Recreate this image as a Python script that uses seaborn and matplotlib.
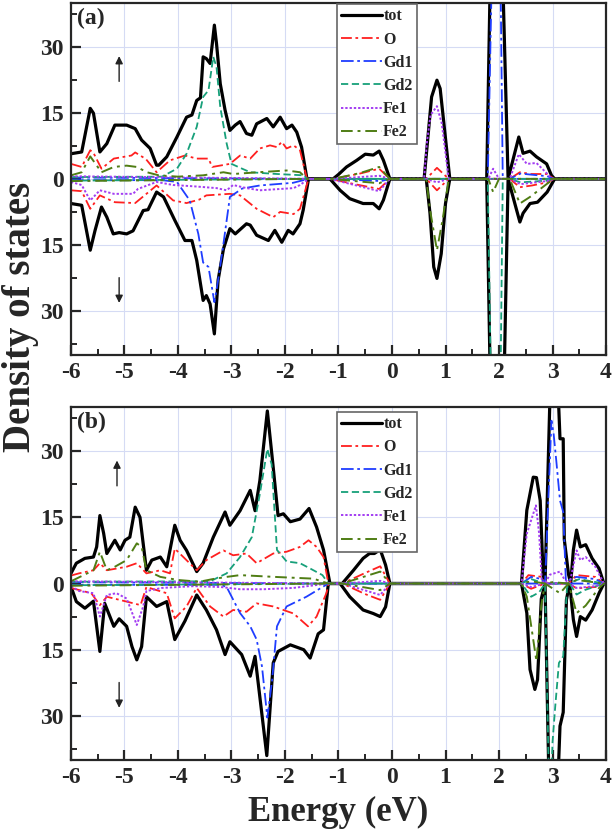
import numpy as np
import pandas as pd
import matplotlib
matplotlib.use("Agg")
import matplotlib.pyplot as plt
import seaborn as sns
from matplotlib.lines import Line2D
from matplotlib.ticker import MultipleLocator, FuncFormatter

# ---- panel (a) data : energy (eV) knots and DOS values, spin up (+) / spin down (-) ----
a_tot_up_e = [-6.0, -5.8, -5.64, -5.58, -5.46, -5.33, -5.18, -4.96, -4.8, -4.68, -4.52, -4.4, -4.36, -4.21,
              -4.02, -3.84, -3.74, -3.65, -3.58, -3.53, -3.47, -3.4, -3.32, -3.28, -3.21, -3.12, -3.03, -2.93,
              -2.84, -2.72, -2.62, -2.53, -2.34, -2.22, -2.09, -1.97, -1.87, -1.78, -1.69, -1.59, -1.1, -1.0,
              -0.85, -0.66, -0.5, -0.35, -0.24, -0.16, -0.04, 0.6, 0.74, 0.84, 0.9, 0.99, 1.08, 1.77, 1.85,
              2.06, 2.17, 2.37, 2.45, 2.58, 2.7, 2.89, 2.98, 3.04, 4.0]
a_tot_up = [5.7, 6.1, 16.0, 14.9, 6.1, 8.0, 12.2, 12.2, 11.4, 8.8, 6.9, 3.1, 3.1, 5.0,
            9.5, 14.0, 14.5, 17.8, 18.4, 27.7, 27.3, 26.2, 34.9, 30.7, 21.6, 15.6, 11.0, 12.2,
            13.0, 10.3, 9.9, 12.5, 13.7, 11.8, 14.0, 11.4, 12.2, 10.6, 7.2, 0.0, 0.0, 1.0,
            2.7, 4.2, 5.6, 5.4, 6.3, 4.2, 0.0, 0.0, 18.6, 22.4, 20.5, 10.3, 0.0, 0.0, 55.0,
            50.0, 0.0, 9.5, 5.8, 6.3, 5.0, 3.4, 0.8, 0.0, 0.0]
a_tot_dn_e = [-6.0, -5.8, -5.64, -5.55, -5.43, -5.33, -5.21, -5.1, -4.96, -4.84, -4.65, -4.56, -4.4, -4.27,
              -4.06, -3.87, -3.74, -3.65, -3.53, -3.47, -3.4, -3.32, -3.25, -3.15, -3.03, -2.93, -2.72, -2.65,
              -2.53, -2.31, -2.19, -2.06, -1.94, -1.85, -1.72, -1.66, -1.56, -1.16, -0.97, -0.79, -0.54, -0.35,
              -0.24, -0.16, -0.04, 0.64, 0.71, 0.78, 0.84, 0.92, 1.0, 1.08, 1.77, 1.85, 2.08, 2.17, 2.39,
              2.45, 2.58, 2.72, 2.9, 3.04, 4.0]
a_tot_dn = [-5.6, -6.0, -16.2, -11.7, -6.4, -8.7, -12.5, -12.2, -12.5, -11.8, -7.2, -7.0, -3.0, -4.1,
            -9.4, -14.0, -14.0, -18.5, -27.6, -26.5, -28.4, -35.2, -23.0, -15.9, -11.3, -12.5, -10.2, -10.5,
            -12.8, -14.0, -11.7, -14.4, -11.7, -12.5, -10.2, -7.1, 0.0, 0.0, -2.6, -4.5, -5.6, -5.6,
            -6.8, -4.8, 0.0, 0.0, -7.8, -20.0, -22.6, -17.0, -5.6, 0.0, 0.0, -55.0, -55.0, 0.0, -9.8,
            -7.8, -5.6, -5.3, -3.0, 0.0, 0.0]

a_o_up_e = [-6.0, -5.8, -5.64, -5.58, -5.43, -5.2, -4.87, -4.8, -4.6, -4.4, -4.15, -3.87, -3.65, -3.43,
            -3.36, -3.03, -2.84, -2.65, -2.47, -2.28, -2.15, -2.06, -1.97, -1.84, -1.72, -1.59, -1.1, -0.6,
            -0.24, -0.04, 0.64, 0.84, 1.06, 2.2, 2.39, 2.6, 2.9, 3.03, 4.0]
a_o_up = [3.4, 2.7, 6.5, 5.9, 2.3, 4.6, 5.3, 6.0, 4.5, 1.5, 4.2, 5.3, 4.6, 4.6,
          2.7, 3.4, 5.3, 4.6, 6.9, 7.6, 7.2, 8.4, 6.9, 7.6, 6.5, 0.0, 0.0, 1.2,
          2.3, 0.0, 0.0, 2.5, 0.0, 0.0, 1.5, 1.1, 1.1, 0.0, 0.0]
a_o_dn_e = [-6.0, -5.8, -5.64, -5.46, -5.18, -4.8, -4.4, -4.09, -3.84, -3.6, -3.47, -3.03, -2.84, -2.53,
            -2.22, -2.09, -1.84, -1.72, -1.56, -1.16, -0.7, -0.24, -0.04, 0.64, 0.84, 1.06, 2.2, 2.39,
            2.62, 2.9, 3.03, 4.0]
a_o_dn = [-2.6, -2.8, -6.8, -3.75, -5.3, -5.5, -1.5, -4.9, -5.5, -4.7, -3.75, -3.4, -3.75, -6.8,
          -8.7, -7.5, -8.0, -6.8, 0.0, 0.0, -1.2, -2.3, 0.0, 0.0, -2.6, 0.0, 0.0, -1.9,
          -1.5, -0.8, 0.0, 0.0]

a_gd1_up_e = [-6.0, -1.59, -1.1, 1.79, 1.88, 2.02, 2.07, 2.2, 2.4, 2.9, 3.03, 4.0]
a_gd1_up = [0.3, 0.0, 0.0, 0.0, 55.0, 55.0, 0.0, 0.0, 1.2, 0.6, 0.0, 0.0]
a_gd1_dn_e = [-6.0, -4.3, -4.02, -3.78, -3.62, -3.53, -3.43, -3.32, -3.25, -3.15, -3.03, -2.8, -2.47, -1.85,
              -1.56, -1.16, -0.2, -0.04, 4.0]
a_gd1_dn = [-0.3, -0.3, -0.7, -4.9, -12.5, -19.0, -20.0, -28.0, -23.0, -14.7, -4.1, -2.2, -1.5, -0.9,
            0.0, 0.0, -0.5, 0.0, 0.0]

a_gd2_up_e = [-6.0, -4.3, -4.02, -3.84, -3.65, -3.53, -3.43, -3.34, -3.28, -3.21, -3.09, -3.0, -2.8, -2.65,
              -2.15, -1.65, -1.59, 4.0]
a_gd2_up = [0.4, 0.5, 2.3, 5.7, 11.8, 18.6, 20.1, 27.7, 25.4, 16.3, 8.0, 3.4, 2.3, 1.5,
            1.1, 0.8, 0.0, 0.0]
a_gd2_dn_e = [-6.0, -1.56, -1.16, 1.79, 1.86, 2.02, 2.07, 2.2, 2.4, 2.9, 3.03, 4.0]
a_gd2_dn = [-0.4, 0.0, 0.0, 0.0, -55.0, -55.0, 0.0, 0.0, -0.8, -0.4, 0.0, 0.0]

a_fe1_up_e = [-6.0, -1.59, -1.1, -0.24, -0.04, 0.6, 0.65, 0.72, 0.84, 0.93, 1.06, 1.8, 1.89, 2.0,
              2.2, 2.37, 2.52, 2.7, 2.93, 3.0, 4.0]
a_fe1_up = [0.6, 0.0, 0.0, 0.7, 0.0, 0.0, 8.0, 14.5, 16.5, 12.6, 0.0, 0.0, 2.3, 0.0,
            0.0, 5.6, 3.4, 3.6, 0.8, 0.0, 0.0]
a_fe1_dn_e = [-6.0, -5.8, -5.64, -5.46, -5.2, -4.84, -4.75, -4.4, -4.09, -3.7, -3.28, -3.09, -2.97, -2.72,
              -2.47, -1.84, -1.72, -1.56, -1.16, -0.24, -0.04, 0.64, 0.84, 1.06, 2.2, 2.4, 2.9, 3.03, 4.0]
a_fe1_dn = [-0.7, -1.4, -4.9, -2.6, -3.4, -3.4, -2.3, -0.7, -1.4, -1.7, -2.1, -2.6, -1.4, -2.1,
            -2.6, -2.1, -1.4, 0.0, 0.0, -2.8, 0.0, 0.0, -0.8, 0.0, 0.0, -1.2, -0.5, 0.0, 0.0]

a_fe2_up_e = [-6.0, -5.8, -5.64, -5.43, -5.2, -4.96, -4.77, -4.58, -4.36, -4.0, -3.53, -3.15, -2.97, -2.5,
              -1.97, -1.72, -1.59, -1.1, -0.6, -0.24, -0.04, 4.0]
a_fe2_up = [0.8, 1.5, 5.1, 1.5, 2.7, 3.0, 2.7, 1.5, 0.8, 0.5, 0.8, 1.5, 1.1, 1.5,
            1.9, 1.5, 0.0, 0.0, 1.3, 2.7, 0.0, 0.0]
a_fe2_dn_e = [-6.0, -1.56, -1.16, -0.24, -0.04, 0.64, 0.71, 0.84, 0.95, 1.06, 1.8, 1.89, 2.0, 2.2,
              2.39, 2.58, 2.9, 3.03, 4.0]
a_fe2_dn = [-0.5, 0.0, 0.0, -1.0, 0.0, 0.0, -7.0, -16.2, -9.0, 0.0, 0.0, -3.0, 0.0, 0.0,
            -5.6, -4.1, -1.1, 0.0, 0.0]

# ---- panel (b) data ----
b_tot_up_e = [-6.0, -5.9, -5.74, -5.58, -5.52, -5.46, -5.39, -5.33, -5.18, -5.08, -4.99, -4.9, -4.8, -4.71,
              -4.59, -4.49, -4.33, -4.21, -4.06, -3.96, -3.84, -3.65, -3.53, -3.34, -3.12, -3.03, -2.84, -2.65,
              -2.56, -2.47, -2.33, -2.22, -2.13, -2.03, -1.9, -1.72, -1.55, -1.41, -1.28, -1.16, -0.93, -0.72,
              -0.54, -0.42, -0.33, -0.22, -0.12, -0.04, 2.42, 2.52, 2.64, 2.7, 2.77, 2.83, 2.86, 2.98,
              3.1, 3.14, 3.2, 3.22, 3.3, 3.34, 3.39, 3.45, 3.52, 3.62, 3.74, 3.87, 3.96, 4.0]
b_tot_up = [2.3, 4.6, 5.7, 6.0, 8.3, 15.4, 11.4, 6.8, 9.8, 7.6, 9.8, 10.5, 17.3, 15.0,
            3.0, 5.3, 6.0, 3.8, 13.2, 9.8, 7.5, 2.7, 4.6, 10.5, 16.2, 13.2, 16.5, 21.1,
            16.5, 23.3, 39.1, 26.3, 15.4, 15.8, 14.0, 14.6, 17.0, 12.8, 7.6, 0.0, 0.0, 3.0,
            5.7, 6.8, 6.8, 7.7, 4.2, 0.0, 0.0, 16.6, 24.1, 24.0, 18.8, 0.5, 0.0, 55.0,
            45.0, 32.8, 32.8, 10.0, 2.0, 0.0, 7.6, 12.1, 8.3, 8.8, 5.7, 3.4, 0.0, 0.0]
b_tot_dn_e = [-6.0, -5.9, -5.74, -5.58, -5.46, -5.37, -5.2, -5.1, -4.96, -4.86, -4.77, -4.68, -4.59, -4.4,
              -4.21, -4.06, -3.87, -3.65, -3.47, -3.28, -3.12, -3.03, -2.81, -2.65, -2.56, -2.34, -2.22, -2.13,
              -1.9, -1.65, -1.53, -1.38, -1.28, -1.19, -0.97, -0.79, -0.54, -0.35, -0.22, -0.12, -0.04, 2.42,
              2.52, 2.58, 2.67, 2.72, 2.79, 2.86, 2.95, 3.07, 3.14, 3.2, 3.26, 3.32, 3.39, 3.45,
              3.52, 3.62, 3.74, 3.87, 3.96, 4.0]
b_tot_dn = [-0.7, -4.1, -5.6, -4.0, -15.4, -4.5, -9.7, -8.0, -9.7, -14.3, -17.3, -14.3, -3.0, -5.2,
            -4.1, -12.7, -8.5, -2.6, -6.0, -10.5, -16.1, -13.2, -16.1, -21.0, -16.5, -39.0, -18.0, -15.4,
            -13.9, -15.0, -16.9, -11.4, -10.5, 0.0, 0.0, -3.0, -6.0, -6.8, -7.5, -5.3, 0.0, 0.0,
            -6.7, -19.5, -24.0, -21.8, -3.5, 0.0, -55.0, -55.0, -32.3, -29.2, -3.7, 0.0, -8.2, -12.0,
            -7.5, -8.3, -6.0, -2.2, 0.0, 0.0]

b_o_up_e = [-6.0, -5.85, -5.58, -5.46, -5.33, -4.96, -4.77, -4.59, -4.33, -4.15, -4.06, -3.9, -3.65, -3.47,
            -3.15, -2.97, -2.72, -2.53, -2.22, -1.97, -1.72, -1.56, -1.41, -1.28, -1.19, -0.93, -0.5, -0.22,
            -0.04, 2.42, 2.55, 2.8, 2.86, 3.3, 3.45, 3.8, 3.96, 4.0]
b_o_up = [1.8, 2.3, 3.0, 4.6, 3.0, 3.8, 4.6, 2.3, 3.0, 2.3, 7.9, 6.0, 3.0, 5.3,
          7.5, 6.4, 6.8, 4.6, 6.8, 7.2, 8.3, 9.8, 8.3, 6.0, 0.0, 0.0, 2.4, 3.9,
          0.0, 0.0, 1.9, 1.5, 0.0, 0.0, 1.9, 1.5, 0.0, 0.0]
b_o_dn_e = [-6.0, -5.62, -5.46, -5.33, -4.96, -4.7, -4.59, -4.21, -4.06, -3.84, -3.65, -3.4, -3.15, -2.97,
            -2.72, -2.53, -2.22, -1.84, -1.57, -1.41, -1.22, -1.19, -0.93, -0.5, -0.22, -0.04, 2.42, 2.6,
            2.86, 3.3, 3.45, 3.8, 3.96, 4.0]
b_o_dn = [-1.0, -2.2, -4.9, -3.0, -4.1, -4.9, -0.8, -2.2, -7.9, -5.2, -1.0, -5.2, -7.5, -6.0,
          -6.4, -4.5, -5.2, -6.8, -9.7, -7.5, -2.0, 0.0, 0.0, -2.4, -3.7, 0.0, 0.0, -1.2,
          0.0, 0.0, -1.1, -0.8, 0.0, 0.0]

b_gd1_up_e = [-6.0, -1.19, -0.93, 2.42, 2.6, 2.8, 2.86, 2.98, 3.02, 3.07, 3.14, 3.2, 3.25, 3.45, 3.8, 3.96, 4.0]
b_gd1_up = [0.3, 0.0, 0.0, 0.0, 1.5, 1.0, 0.0, 36.9, 34.0, 27.9, 18.8, 16.2, 0.5, 1.5, 1.0, 0.0, 0.0]
b_gd1_dn_e = [-6.0, -3.2, -3.09, -2.84, -2.65, -2.53, -2.43, -2.33, -2.24, -2.15, -1.97, -1.6, -1.19, 4.0]
b_gd1_dn = [-0.3, -0.3, -0.8, -6.7, -9.7, -12.7, -18.8, -30.4, -21.8, -9.7, -5.2, -3.0, 0.0, 0.0]

b_gd2_up_e = [-6.0, -3.4, -3.09, -2.84, -2.62, -2.47, -2.33, -2.25, -2.15, -1.97, -1.72, -1.53, -1.3, -1.19,
              2.42, 2.6, 2.86, 3.3, 3.5, 3.96, 4.0]
b_gd2_up = [0.4, 0.5, 2.3, 6.0, 10.5, 20.3, 30.5, 27.0, 7.6, 5.0, 4.6, 3.4, 1.9, 0.0,
            0.0, 1.0, 0.0, 0.0, 1.0, 0.0, 0.0]
b_gd2_dn_e = [-6.0, -1.19, -0.93, 2.42, 2.6, 2.75, 2.86, 2.95, 3.0, 3.05, 3.12, 3.2, 3.27, 3.32, 3.45, 3.6,
              3.96, 4.0]
b_gd2_dn = [-0.4, 0.0, 0.0, 0.0, -3.0, -2.0, 0.0, -55.0, -36.0, -28.0, -18.0, -16.5, -1.0, 0.0, -2.5, -1.5,
            0.0, 0.0]

b_fe1_up_e = [-6.0, -1.19, -0.93, -0.22, -0.04, 2.42, 2.52, 2.69, 2.75, 2.8, 2.86, 2.95, 3.14, 3.22,
              3.32, 3.45, 3.52, 3.62, 3.8, 3.96, 4.0]
b_fe1_up = [0.5, 0.0, 0.0, 0.6, 0.0, 0.0, 11.3, 17.7, 11.3, 0.5, 0.0, 2.0, 2.7, 1.0,
            0.0, 7.5, 5.3, 6.0, 3.8, 0.0, 0.0]
b_fe1_dn_e = [-6.0, -5.85, -5.58, -5.46, -5.33, -5.15, -4.96, -4.77, -4.65, -4.59, -4.3, -3.7, -3.2, -2.84,
              -2.4, -1.84, -1.19, -0.93, -0.22, -0.04, 2.42, 2.6, 2.86, 3.3, 3.45, 3.8, 3.96, 4.0]
b_fe1_dn = [-0.6, -1.7, -2.2, -7.5, -2.6, -2.2, -3.4, -9.4, -5.2, -1.7, -1.0, -0.6, -0.8, -1.3,
            -1.3, -1.0, 0.0, 0.0, -2.6, 0.0, 0.0, -0.8, 0.0, 0.0, -1.0, -0.6, 0.0, 0.0]

b_fe2_up_e = [-6.0, -5.58, -5.46, -5.33, -5.18, -4.96, -4.77, -4.68, -4.59, -4.33, -4.0, -3.6, -3.35, -3.09,
              -2.84, -2.2, -1.47, -1.19, -0.93, -0.22, -0.04, 2.42, 2.6, 2.86, 3.0, 3.3, 3.45, 3.96, 4.0]
b_fe2_up = [0.5, 3.0, 7.2, 3.0, 3.8, 5.3, 9.1, 8.3, 3.0, 1.5, 0.8, 0.4, 1.0, 1.5,
            1.9, 1.5, 1.1, 0.0, 0.0, 2.7, 0.0, 0.0, 0.5, 0.0, 0.3, 0.0, 0.8, 0.0, 0.0]
b_fe2_dn_e = [-6.0, -1.19, -0.93, -0.22, -0.04, 2.42, 2.52, 2.7, 2.79, 2.86, 3.14, 3.3, 3.45, 3.62, 3.87,
              3.96, 4.0]
b_fe2_dn = [-0.5, 0.0, 0.0, -1.5, 0.0, 0.0, -3.0, -17.6, -5.0, 0.0, -2.2, 0.0, -6.7, -5.0, -1.0,
            0.0, 0.0]

species = ["tot", "O", "Gd1", "Gd2", "Fe1", "Fe2"]
colors = {"tot": "black", "O": "#ff1f1f", "Gd1": "#1f3dff", "Gd2": "#17a07a",
          "Fe1": "#a33df2", "Fe2": "#4f7d14"}
styles = {"tot": "-", "O": (0, (6, 2, 1.5, 2)), "Gd1": (0, (7, 2, 1.5, 2)),
          "Gd2": (0, (4, 2)), "Fe1": (0, (1.2, 1)), "Fe2": (0, (6, 2.5, 1.5, 2.5))}
widths = {"tot": 2.3, "O": 1.3, "Gd1": 1.3, "Gd2": 1.3, "Fe1": 1.4, "Fe2": 1.4}

curves = {
    "a": {"tot": (a_tot_up_e, a_tot_up, a_tot_dn_e, a_tot_dn), "O": (a_o_up_e, a_o_up, a_o_dn_e, a_o_dn),
          "Gd1": (a_gd1_up_e, a_gd1_up, a_gd1_dn_e, a_gd1_dn), "Gd2": (a_gd2_up_e, a_gd2_up, a_gd2_dn_e, a_gd2_dn),
          "Fe1": (a_fe1_up_e, a_fe1_up, a_fe1_dn_e, a_fe1_dn), "Fe2": (a_fe2_up_e, a_fe2_up, a_fe2_dn_e, a_fe2_dn)},
    "b": {"tot": (b_tot_up_e, b_tot_up, b_tot_dn_e, b_tot_dn), "O": (b_o_up_e, b_o_up, b_o_dn_e, b_o_dn),
          "Gd1": (b_gd1_up_e, b_gd1_up, b_gd1_dn_e, b_gd1_dn), "Gd2": (b_gd2_up_e, b_gd2_up, b_gd2_dn_e, b_gd2_dn),
          "Fe1": (b_fe1_up_e, b_fe1_up, b_fe1_dn_e, b_fe1_dn), "Fe2": (b_fe2_up_e, b_fe2_up, b_fe2_dn_e, b_fe2_dn)},
}

rows = []
for panel, d in curves.items():
    for sp in species:
        ue, uv, de, dv = d[sp]
        for e, v in zip(ue, uv):
            rows.append((panel, sp, "up", e, v))
        for e, v in zip(de, dv):
            rows.append((panel, sp, "dn", e, v))
df = pd.DataFrame(rows, columns=["panel", "species", "spin", "energy", "dos"])

sns.set_style("ticks")
plt.rcParams["font.family"] = ["Liberation Serif", "DejaVu Serif"]
plt.rcParams["font.weight"] = "bold"
plt.rcParams["axes.unicode_minus"] = False

fig = plt.figure(figsize=(6.13, 8.34), dpi=100)
ax_a = fig.add_axes([0.1158, 0.5743, 0.8728, 0.4225])
ax_b = fig.add_axes([0.1158, 0.0887, 0.8728, 0.4233])

arrows = {"a": (-5.1, -5.1), "b": (-5.14, -5.1)}

for panel, ax in (("a", ax_a), ("b", ax_b)):
    ax.grid(True, which="major", color="#d5dbf4", lw=0.8, zorder=0)
    for sp in species:
        for spin in ("up", "dn"):
            sub = df[(df.panel == panel) & (df.species == sp) & (df.spin == spin)]
            sns.lineplot(data=sub, x="energy", y="dos", ax=ax, estimator=None, sort=False,
                         color=colors[sp], lw=widths[sp], linestyle=styles[sp], legend=False)
    ax.set_xlim(-6, 4)
    ax.set_ylim(-40, 40)
    ax.set_xlabel("")
    ax.set_ylabel("")
    ax.xaxis.set_major_locator(MultipleLocator(1))
    ax.xaxis.set_minor_locator(MultipleLocator(0.5))
    ax.yaxis.set_major_locator(MultipleLocator(15))
    ax.yaxis.set_minor_locator(MultipleLocator(7.5))
    ax.yaxis.set_major_formatter(FuncFormatter(lambda v, p: f"{abs(v):g}"))
    ax.tick_params(which="major", direction="in", length=7, width=1.6, labelsize=17, pad=5)
    ax.tick_params(which="minor", direction="in", length=4, width=1.4)
    for lab in ax.get_xticklabels() + ax.get_yticklabels():
        lab.set_fontweight("bold")
    for s in ax.spines.values():
        s.set_linewidth(1.6)
    ax.text(0.012, 0.985, f"({panel})", transform=ax.transAxes, va="top", ha="left",
            fontsize=17, fontweight="bold")
    up_x, dn_x = arrows[panel]
    ax.annotate("", xy=(up_x, 28.5), xytext=(up_x, 21.5),
                arrowprops=dict(arrowstyle="-|>", color="#222222", lw=1.0, mutation_scale=11))
    ax.annotate("", xy=(dn_x, -28.8), xytext=(dn_x, -21.8),
                arrowprops=dict(arrowstyle="-|>", color="#222222", lw=1.0, mutation_scale=11))
    handles = [Line2D([], [], color=colors[sp], lw=widths[sp], linestyle=styles[sp]) for sp in species]
    leg = ax.legend(handles, species, loc="upper left",
                    bbox_to_anchor=(0.497, 0.995 if panel == "a" else 0.985),
                    frameon=True, fancybox=False, framealpha=1, edgecolor="#666666",
                    prop={"weight": "bold", "size": 11.5}, handlelength=2.6, handletextpad=0.05,
                    borderpad=0.25, labelspacing=0.45, borderaxespad=0)
    leg.get_frame().set_linewidth(1.2)

fig.text(0.033, 0.62, "Density of states", rotation=90, ha="center", va="center",
         fontsize=28, fontweight="bold")
fig.text(0.552, 0.026, "Energy (eV)", ha="center", va="center", fontsize=25, fontweight="bold")

fig.savefig("out.png", dpi=100)
